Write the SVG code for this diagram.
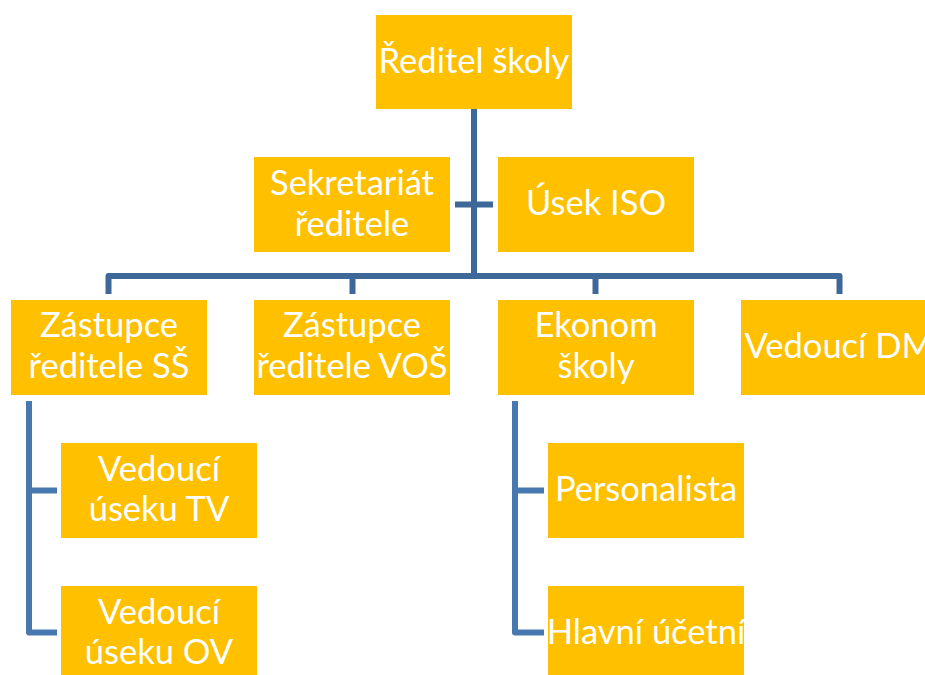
<svg xmlns="http://www.w3.org/2000/svg" width="925" height="675" viewBox="0 0 925 675">
  <style>
    .box { fill: #FFC000; }
    .lbl { fill: #FFFFFF; font-family: Lato, "Open Sans", "Liberation Sans", sans-serif; font-size: 34.5px; font-weight: 400; text-anchor: middle; }
    .link { fill: none; stroke: #3E6898; stroke-width: 6; stroke-linejoin: round; }
    .link2 { fill: none; stroke: #4878B0; stroke-width: 6; stroke-linejoin: round; }
  </style>
  <rect width="925" height="675" fill="#FFFFFF"/>

  <g id="connectors">
    <path class="link" d="M474,109 V276"/>
    <path class="link" d="M455,204.5 H493"/>
    <path class="link" d="M108.5,294 V276 H839.5 V294"/>
    <path class="link" d="M352.5,276 V294"/>
    <path class="link" d="M595.5,276 V294"/>
    <path class="link2" d="M29,401 V632.5 H57"/>
    <path class="link2" d="M29,490.5 H57"/>
    <path class="link2" d="M515,401 V632.5 H544"/>
    <path class="link2" d="M515,490.5 H544"/>
  </g>

  <g id="reditel">
    <rect class="box" x="376" y="15" width="196" height="94"/>
    <text class="lbl" x="474" y="73">Ředitel školy</text>
  </g>
  <g id="sekretariat">
    <rect class="box" x="254" y="157" width="196" height="95"/>
    <text class="lbl" x="352" y="195">Sekretariát</text>
    <text class="lbl" x="352" y="236">ředitele</text>
  </g>
  <g id="usek-iso">
    <rect class="box" x="498" y="157" width="196" height="95"/>
    <text class="lbl" x="596" y="215">Úsek ISO</text>
  </g>
  <g id="zastupce-ss">
    <rect class="box" x="11" y="300" width="196" height="95"/>
    <text class="lbl" x="109" y="337">Zástupce</text>
    <text class="lbl" x="109" y="378">ředitele SŠ</text>
  </g>
  <g id="zastupce-vos">
    <rect class="box" x="254" y="300" width="196" height="95"/>
    <text class="lbl" x="352" y="337">Zástupce</text>
    <text class="lbl" x="352" y="378">ředitele VOŠ</text>
  </g>
  <g id="ekonom">
    <rect class="box" x="498" y="300" width="196" height="95"/>
    <text class="lbl" x="596" y="337">Ekonom</text>
    <text class="lbl" x="596" y="378">školy</text>
  </g>
  <g id="vedouci-dm">
    <rect class="box" x="741" y="300" width="196" height="95"/>
    <text class="lbl" x="839" y="358">Vedoucí DM</text>
  </g>
  <g id="usek-tv">
    <rect class="box" x="61" y="443" width="196" height="95"/>
    <text class="lbl" x="159" y="481">Vedoucí</text>
    <text class="lbl" x="159" y="521">úseku TV</text>
  </g>
  <g id="usek-ov">
    <rect class="box" x="61" y="586" width="196" height="95"/>
    <text class="lbl" x="159" y="624">Vedoucí</text>
    <text class="lbl" x="159" y="664">úseku OV</text>
  </g>
  <g id="personalista">
    <rect class="box" x="548" y="443" width="196" height="95"/>
    <text class="lbl" x="646" y="501">Personalista</text>
  </g>
  <g id="hlavni-ucetni">
    <rect class="box" x="548" y="586" width="196" height="95"/>
    <text class="lbl" x="646" y="644">Hlavní účetní</text>
  </g>
</svg>
